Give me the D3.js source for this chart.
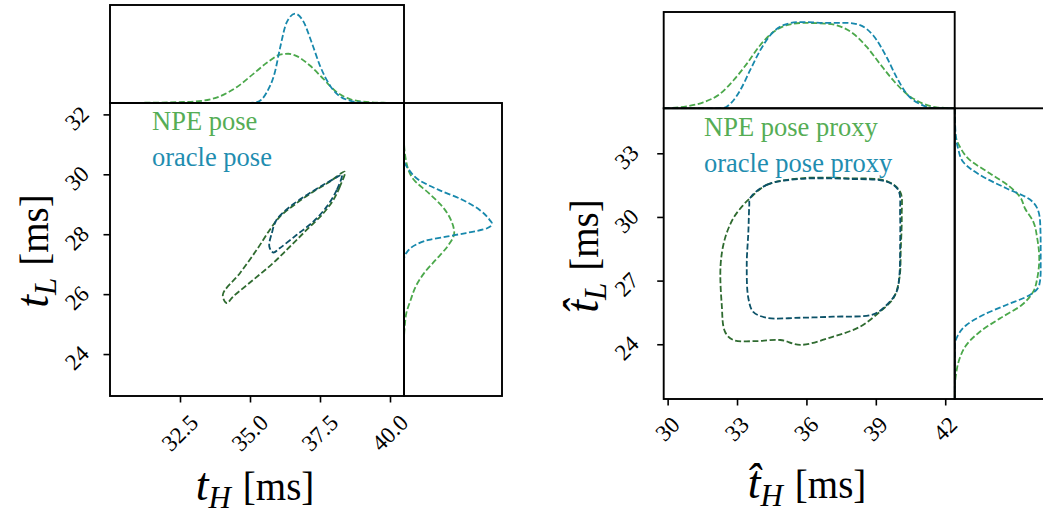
<!DOCTYPE html>
<html><head><meta charset="utf-8">
<script src="https://cdn.jsdelivr.net/npm/d3@7"></script>
<style>body{margin:0;background:#fff}svg{display:block}text{font-family:"Liberation Serif","DejaVu Serif",serif}</style>
</head><body><svg id="c" width="1043" height="516"></svg>
<script>
// ---------- DATA ----------
const leftXTicks = [32.5, 35.0, 37.5, 40.0];
const leftXTickLabels = ["32.5", "35.0", "37.5", "40.0"];
const leftYTicks = [24, 26, 28, 30, 32];
const rightXTicks = [30, 33, 36, 39, 42];
const rightYTicks = [24, 27, 30, 33];

const seriesNames = ["NPE pose", "oracle pose"];
const seriesNamesProxy = ["NPE pose proxy", "oracle pose proxy"];

// left panel: marginal of t_H (x, density)
const leftTopNPE = [[30,0],[32.38,0.006],[33.33,0.019],[33.93,0.054],[34.52,0.127],[35.12,0.235],[35.6,0.324],[36.07,0.389],[36.37,0.397],[36.67,0.378],[37.14,0.302],[37.62,0.194],[38.1,0.087],[38.57,0.032],[39.05,0.011],[39.76,0.002],[40.5,0]];
const leftTopOracle = [[30,0],[34.8,0],[35.24,0.006],[35.6,0.087],[35.89,0.25],[36.07,0.44],[36.31,0.65],[36.61,0.72],[36.9,0.66],[37.2,0.49],[37.5,0.30],[37.86,0.14],[38.21,0.054],[38.57,0.019],[39.05,0.002],[40.5,0]];
// left panel: marginal of t_L (y, density)
const leftRightNPE = [[32.4,0],[31.15,0.0],[30.26,0.027],[29.81,0.081],[29.37,0.20],[28.92,0.31],[28.48,0.378],[28.04,0.405],[27.59,0.35],[27.15,0.257],[26.7,0.162],[26.26,0.095],[25.81,0.054],[25.37,0.019],[24.92,0.006],[24.48,0],[22.6,0]];
const leftRightOracle = [[32.4,0],[30.48,0],[30.15,0.04],[29.81,0.12],[29.48,0.28],[29.15,0.47],[28.81,0.61],[28.48,0.69],[28.35,0.71],[28.2,0.67],[28.04,0.50],[27.92,0.34],[27.81,0.20],[27.65,0.095],[27.42,0.027],[27.15,0],[22.6,0]];
// left panel: contours (t_H, t_L)
const leftContourNPE = [[38.39,30.09],[38.21,29.59],[37.98,29.15],[37.62,28.70],[37.03,28.15],[36.43,27.59],[35.83,27.04],[35.12,26.48],[34.40,25.92],[34.17,25.70],[34.03,25.98],[34.64,26.70],[35.24,27.48],[35.71,28.15],[36.07,28.59],[36.67,29.04],[37.26,29.42],[37.86,29.76]];
const leftContourOracle = [[38.28,29.98],[38.10,29.48],[37.74,28.92],[37.26,28.42],[36.67,27.98],[36.07,27.54],[35.83,27.39],[35.69,27.59],[35.78,28.04],[35.95,28.48],[36.43,28.92],[37.03,29.31],[37.62,29.65],[38.10,29.90]];

// right panel: marginal of t_H hat
const rightTopNPE = [[29.83,0],[30.82,0.0035],[31.54,0.0105],[32.26,0.025],[32.84,0.0485],[33.42,0.0775],[34.0,0.11],[34.57,0.133],[35.15,0.145],[35.87,0.149],[36.88,0.1475],[37.45,0.143],[38.03,0.130],[38.61,0.107],[39.18,0.0775],[39.76,0.0485],[40.34,0.025],[40.91,0.0105],[41.63,0.00175],[42.41,0]];
const rightTopOracle = [[29.83,0],[32.0,0],[32.41,0.0005],[32.77,0.0105],[33.13,0.031],[33.56,0.066],[34.0,0.101],[34.43,0.127],[35.0,0.145],[35.72,0.1505],[36.88,0.149],[37.74,0.149],[38.32,0.145],[38.89,0.127],[39.47,0.089],[39.9,0.054],[40.34,0.025],[40.91,0.0075],[41.49,0.0005],[42.41,0]];
// right panel: marginal of t_L hat
const rightRightNPE = [[35.12,0],[34.02,0.0005],[33.32,0.00875],[32.69,0.026],[32.06,0.061],[31.43,0.096],[30.9,0.115],[30.41,0.1225],[29.78,0.137],[28.99,0.144],[28.05,0.1475],[27.11,0.144],[26.48,0.137],[25.85,0.117],[25.22,0.079],[24.59,0.044],[23.97,0.0205],[23.34,0.00875],[22.71,0.003],[21.76,0],[21.42,0]];
const rightRightOracle = [[35.12,0],[33.86,0.00175],[33.24,0.0058],[32.6,0.0145],[31.98,0.044],[31.35,0.090],[30.88,0.128],[30.41,0.144],[29.78,0.149],[28.68,0.150],[27.42,0.150],[26.79,0.1475],[26.32,0.131],[25.85,0.090],[25.38,0.0495],[24.91,0.0205],[24.43,0.0058],[23.97,0.0005],[21.42,0]];
// right panel: contours
const rightContourNPE = [[33.56,30.88],[34.28,31.51],[35.74,31.82],[37.90,31.82],[39.47,31.69],[40.05,31.19],[40.12,30.09],[40.08,28.52],[40.02,27.11],[39.76,26.17],[39.18,25.54],[38.32,24.83],[37.16,24.36],[35.74,23.97],[34.87,24.20],[33.85,24.15],[32.84,24.20],[32.48,24.59],[32.34,25.85],[32.29,27.74],[32.48,28.99],[32.84,29.94],[33.27,30.56]];
const rightContourOracle = [[33.56,30.88],[34.28,31.51],[35.74,31.79],[37.90,31.79],[39.47,31.66],[39.97,31.27],[40.05,30.09],[40.05,28.52],[40.02,27.26],[39.90,26.48],[39.47,25.85],[38.89,25.41],[37.16,25.30],[35.74,25.25],[34.28,25.25],[33.70,25.53],[33.49,26.17],[33.42,27.74],[33.49,29.30],[33.53,30.56]];

// ---------- STYLE ----------
const cNPE = "#4ba84b", cOracle = "#1788ac";
const cNPEc = "#2f6b30", cOraclec = "#0c5268";
const cNPEtxt = "#55ad55", cOracletxt = "#1f8db0";
const dash = "6,2.6", lw = 1.8;

const svg = d3.select("#c");
let clipId = 0;

function clipRect(x, y, w, h) {
  const id = "clip" + (clipId++);
  svg.append("clipPath").attr("id", id).append("rect").attr("x", x).attr("y", y).attr("width", w).attr("height", h);
  return "url(#" + id + ")";
}

function axisLabel(sel, sub, hat, p) {
  sel.append("tspan").attr("font-style", "italic").attr("font-size", p.tFs).text(hat ? "t\u0302" : "t");
  sel.append("tspan").attr("font-style", "italic").attr("font-size", p.subFs).attr("dy", 8).text(sub);
  sel.append("tspan").attr("font-size", p.msFs).attr("dy", -8).attr("dx", 12).text("[ms]");
}

function drawPanel(p) {
  const x = d3.scaleLinear(p.xDom, [p.x0, p.x1]);
  const y = d3.scaleLinear(p.yDom, [p.y1, p.y0]);
  const dTop = d3.scaleLinear([0, p.topMax], [p.y0, p.topY0]);
  const dRight = d3.scaleLinear([0, p.rightMax], [p.x1, p.rightX1]);

  // top marginal
  const gTop = svg.append("g").attr("clip-path", clipRect(p.x0, p.topY0, p.x1 - p.x0, p.y0 - p.topY0 + 1));
  const lineTop = d3.line().x(d => x(d[0])).y(d => dTop(d[1])).curve(d3.curveMonotoneX);
  gTop.append("path").attr("d", lineTop(p.topNPE)).attr("fill", "none").attr("stroke", cNPE).attr("stroke-width", lw).attr("stroke-dasharray", dash);
  gTop.append("path").attr("d", lineTop(p.topOracle)).attr("fill", "none").attr("stroke", cOracle).attr("stroke-width", lw).attr("stroke-dasharray", dash);

  // right marginal
  const gR = svg.append("g").attr("clip-path", clipRect(p.x1 - 1, p.y0, p.rightX1 - p.x1 + 1, p.y1 - p.y0));
  const lineR = d3.line().x(d => dRight(d[1])).y(d => y(d[0])).curve(d3.curveMonotoneY);
  const sortY = a => a.slice().sort((u, v) => v[0] - u[0]);
  gR.append("path").attr("d", lineR(sortY(p.rightNPE))).attr("fill", "none").attr("stroke", cNPE).attr("stroke-width", lw).attr("stroke-dasharray", dash);
  gR.append("path").attr("d", lineR(sortY(p.rightOracle))).attr("fill", "none").attr("stroke", cOracle).attr("stroke-width", lw).attr("stroke-dasharray", dash);

  // contours
  const gM = svg.append("g").attr("clip-path", clipRect(p.x0, p.y0, p.x1 - p.x0, p.y1 - p.y0));
  const lineC = d3.line().x(d => x(d[0])).y(d => y(d[1])).curve(d3.curveCatmullRomClosed.alpha(0.5));
  gM.append("path").attr("d", lineC(p.cNPE)).attr("fill", "none").attr("stroke", cNPEc).attr("stroke-width", lw).attr("stroke-dasharray", dash);
  gM.append("path").attr("d", lineC(p.cOracle)).attr("fill", "none").attr("stroke", cOraclec).attr("stroke-width", lw).attr("stroke-dasharray", dash);

  // legend
  svg.append("text").attr("x", p.legX).attr("y", p.legY1).attr("fill", cNPEtxt).attr("font-size", p.legFs).text(p.names[0]);
  svg.append("text").attr("x", p.legX).attr("y", p.legY2).attr("fill", cOracletxt).attr("font-size", p.legFs).text(p.names[1]);

  // frames
  const fr = svg.append("g").attr("fill", "none").attr("stroke", "#000").attr("stroke-width", 1.9);
  fr.append("rect").attr("x", p.x0).attr("y", p.topY0).attr("width", p.x1 - p.x0).attr("height", p.y0 - p.topY0);
  fr.append("rect").attr("x", p.x0).attr("y", p.y0).attr("width", p.x1 - p.x0).attr("height", p.y1 - p.y0);
  fr.append("rect").attr("x", p.x1).attr("y", p.y0).attr("width", p.rightX1 - p.x1).attr("height", p.y1 - p.y0);

  // axes ticks
  const tickLen = 6.5, fs = 23;
  const ax = svg.append("g").attr("transform", `translate(0,${p.y1})`)
    .call(d3.axisBottom(x).tickValues(p.xTicks).tickSize(tickLen).tickFormat(""));
  ax.select(".domain").remove();
  ax.selectAll("line").attr("stroke", "#000").attr("stroke-width", 1.6);
  const ay = svg.append("g").attr("transform", `translate(${p.x0},0)`)
    .call(d3.axisLeft(y).tickValues(p.yTicks).tickSize(tickLen).tickFormat(""));
  ay.select(".domain").remove();
  ay.selectAll("line").attr("stroke", "#000").attr("stroke-width", 1.6);

  // rotated tick labels
  p.xTicks.forEach((v, i) => {
    const t = svg.append("text").attr("font-size", fs).attr("text-anchor", "middle").attr("dominant-baseline", "central")
      .text(p.xLabels ? p.xLabels[i] : String(v));
    const L = t.node().getComputedTextLength();
    const half = (L + 0.72 * fs) / (2 * Math.SQRT2);
    t.attr("transform", `translate(${x(v)},${p.y1 + p.xLabGap + half}) rotate(-45)`);
  });
  p.yTicks.forEach(v => {
    const t = svg.append("text").attr("font-size", fs).attr("text-anchor", "middle").attr("dominant-baseline", "central").text(String(v));
    const L = t.node().getComputedTextLength();
    const half = (L + 0.72 * fs) / (2 * Math.SQRT2);
    t.attr("transform", `translate(${p.x0 - p.yLabGap - half},${y(v) + 4}) rotate(-45)`);
  });

  // axis labels
  const xl = svg.append("text").attr("x", p.xLabX).attr("y", p.xLabY).attr("text-anchor", "middle");
  axisLabel(xl, "H", p.hat, p);
  const yl = svg.append("text").attr("transform", `translate(${p.yLabX},${p.yLabY}) rotate(-90)`).attr("text-anchor", "middle");
  axisLabel(yl, "L", p.hat, p);
}

const labFont = { tFs: 46, subFs: 31, msFs: 39 };

drawPanel(Object.assign({
  xDom: [30, 40.5], yDom: [22.6, 32.38],
  x0: 110, x1: 404, y0: 103, y1: 396, topY0: 5, rightX1: 502,
  topMax: 0.79, rightMax: 0.79,
  topNPE: leftTopNPE, topOracle: leftTopOracle,
  rightNPE: leftRightNPE, rightOracle: leftRightOracle,
  cNPE: leftContourNPE, cOracle: leftContourOracle,
  names: seriesNames, legX: 152, legY1: 130, legY2: 166, legFs: 26.5,
  xTicks: leftXTicks, xLabels: leftXTickLabels, yTicks: leftYTicks,
  xLabGap: 17, yLabGap: 19,
  hat: false, xLabX: 255, xLabY: 500, yLabX: 48, yLabY: 251
}, labFont));
drawPanel(Object.assign({
  xDom: [29.83, 42.41], yDom: [21.42, 35.12],
  x0: 663.7, x1: 954.7, y0: 108.3, y1: 399, topY0: 12, rightX1: 1051,
  topMax: 0.168, rightMax: 0.168,
  topNPE: rightTopNPE, topOracle: rightTopOracle,
  rightNPE: rightRightNPE, rightOracle: rightRightOracle,
  cNPE: rightContourNPE, cOracle: rightContourOracle,
  names: seriesNamesProxy, legX: 704, legY1: 136, legY2: 172, legFs: 26.5,
  xTicks: rightXTicks, yTicks: rightYTicks,
  xLabGap: 16, yLabGap: 23,
  hat: true, xLabX: 807, xLabY: 498, yLabX: 598, yLabY: 256
}, labFont));
</script></body></html>
